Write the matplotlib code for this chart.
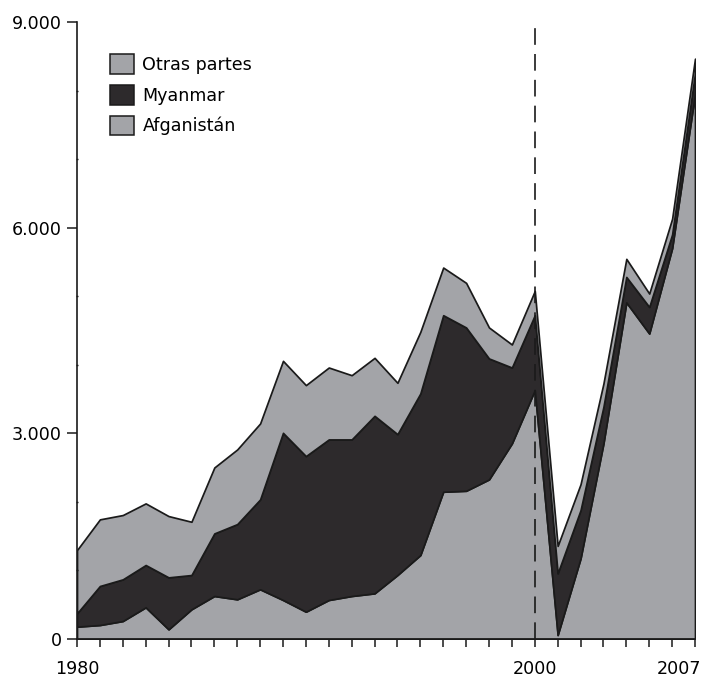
import matplotlib.pyplot as plt
import matplotlib.transforms as mtransforms
import numpy as np

# dane
lata = list(range(1980, 2008))

afganistan = [180, 204, 262, 462, 141, 433, 627, 579, 725, 569,
              398, 569, 627, 666, 933, 1224, 2148, 2162, 2328, 2853,
              3630, 58, 1176, 2853, 4910, 4456, 5700, 7950]

myanmar = [194, 569, 608, 617, 758, 500, 913, 1097, 1311, 2438,
           2270, 2342, 2284, 2589, 2055, 2357, 2575, 2382, 1764, 1107,
           1093, 900, 704, 534, 371, 388, 200, 300]

otras = [923, 972, 938, 899, 894, 777, 962, 1089, 1108, 1050,
         1035, 1049, 937, 846, 749, 899, 695, 651, 452, 336,
         354, 400, 378, 340, 264, 195, 230, 215]

etykiety = ["Afganistán", "Myanmar", "Otras partes"]
yTicks = [0, 3000, 6000, 9000]
yEtykiety = ["0", "3.000", "6.000", "9.000"]
xTicks = [1980, 2000, 2007]

jasny = "#a3a4a8"
ciemny = "#2d2a2c"

plt.rcParams['font.family'] = ['DejaVu Sans']

fig = plt.figure(figsize=(7.02, 6.78), dpi=100)
ax = fig.add_axes([77 / 702, 39 / 678, 618 / 702, 617 / 678])

polys = ax.stackplot(lata, afganistan, myanmar, otras,
                     colors=[jasny, ciemny, jasny], labels=etykiety,
                     edgecolor="#1a1a1a", linewidth=1.25)

# linia przerywana w 2000
ax.plot([2000, 2000], [0, 9000], color="#1a1a1a", linewidth=1.2,
        dashes=(10, 5.5), zorder=5, clip_on=False)

ax.set_xlim(1980, 2007)
ax.set_ylim(0, 9000)

for s in ["top", "right"]:
    ax.spines[s].set_visible(False)
for s in ["left", "bottom"]:
    ax.spines[s].set_linewidth(1.2)
    ax.spines[s].set_color("#1a1a1a")
    ax.spines[s].set_zorder(6)

ax.set_yticks(yTicks)
ax.set_yticklabels(yEtykiety)
ax.set_yticks([1000, 2000, 4000, 5000, 7000, 8000], minor=True)
ax.tick_params(axis="y", which="major", direction="out", length=7,
               width=1.1, pad=4, labelsize=12.6, color="#1a1a1a")
ax.tick_params(axis="y", which="minor", direction="inout", length=2,
               width=1.0, color="#1a1a1a")

ax.set_xticks(lata, minor=True)
ax.set_xticks(xTicks)
ax.set_xticklabels([str(x) for x in xTicks])
ax.tick_params(axis="x", which="both", direction="out", length=6,
               width=1.1, color="#1a1a1a")
ax.tick_params(axis="x", which="major", pad=9, labelsize=12.6)

# ostatnia etykieta przesunieta w lewo, zeby zmiescila sie w obrazku
ostatnia = ax.get_xticklabels()[-1]
ostatnia.set_transform(ostatnia.get_transform() +
                       mtransforms.ScaledTranslation(-16 / 100, 0, fig.dpi_scale_trans))

uchwyty, nazwy = ax.get_legend_handles_labels()
leg = ax.legend(uchwyty[::-1], nazwy[::-1], loc="upper left",
                bbox_to_anchor=(0.053, 0.948), frameon=False,
                fontsize=12.6, handlelength=1.37, handleheight=1.37,
                handletextpad=0.5, labelspacing=0.62, borderpad=0,
                borderaxespad=0)
for p in leg.get_patches():
    p.set_linewidth(1.1)

fig.savefig("out.png", dpi=100)
